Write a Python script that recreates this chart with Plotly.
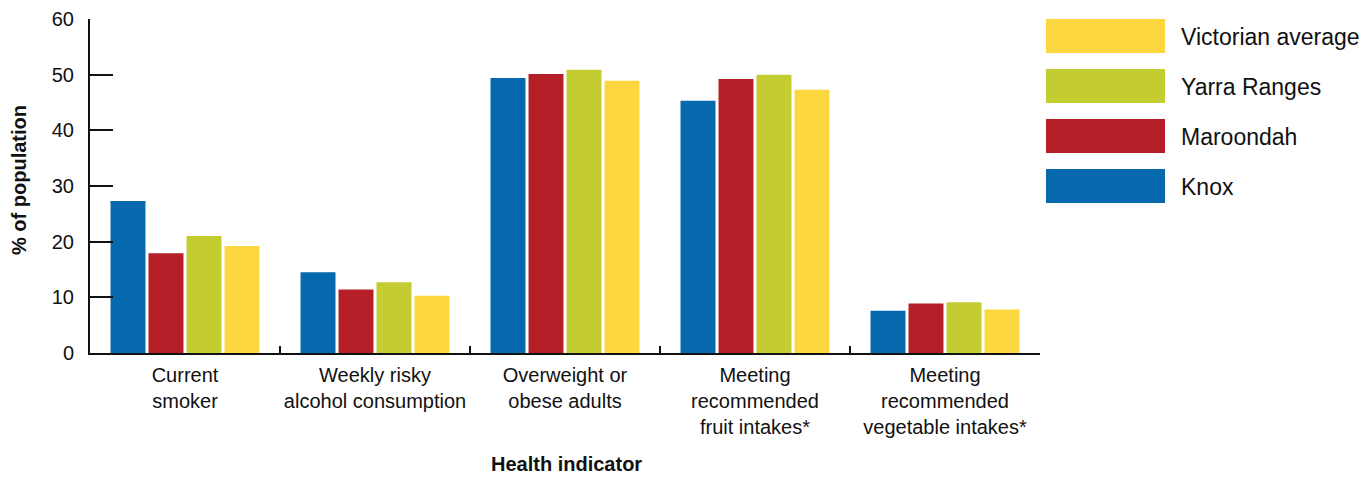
import plotly.graph_objects as go

categories = [
    "Current<br>smoker",
    "Weekly risky<br>alcohol consumption",
    "Overweight or<br>obese adults",
    "Meeting<br>recommended<br>fruit intakes*",
    "Meeting<br>recommended<br>vegetable intakes*",
]
series_names = ["Knox", "Maroondah", "Yarra Ranges", "Victorian average"]
knox = [27.3, 14.5, 49.4, 45.3, 7.6]
maroondah = [17.9, 11.4, 50.1, 49.2, 8.9]
yarra_ranges = [21.0, 12.7, 50.9, 50.0, 9.1]
victorian_average = [19.2, 10.3, 48.9, 47.3, 7.8]
values = [knox, maroondah, yarra_ranges, victorian_average]
colors = ["#0769AD", "#B52028", "#C3CD31", "#FDD740"]
y_ticks = [0, 10, 20, 30, 40, 50, 60]

FONT = "Liberation Sans, Arial, Helvetica, sans-serif"

fig = go.Figure()
for name, vals, col in zip(series_names, values, colors):
    fig.add_trace(go.Bar(name=name, x=categories, y=vals, marker=dict(color=col, line=dict(width=0)),
                         showlegend=False))

# custom legend (large swatches)
L, R, T, B = 90, 326, 19, 124
W, H = 1366, 477
pw, ph = W - L - R, H - T - B

def px_x(x):
    return (x - L) / pw

def px_y(y):
    return (H - B - y) / ph

shapes = []
annotations = []
legend_order = list(range(len(series_names)))[::-1]
for i, idx in enumerate(legend_order):
    top = 19 + i * 50
    shapes.append(dict(type="rect", xref="paper", yref="paper",
                       x0=px_x(1046), x1=px_x(1165), y0=px_y(top + 34), y1=px_y(top),
                       fillcolor=colors[idx], line=dict(width=0), layer="above"))
    annotations.append(dict(text=series_names[idx], xref="paper", yref="paper",
                            x=px_x(1179), y=px_y(top + 18), xanchor="left", yanchor="middle",
                            showarrow=False, font=dict(family=FONT, size=23, color="#111111")))

annotations.append(dict(text="<b>Health indicator</b>", xref="paper", yref="paper",
                        x=px_x(566), y=px_y(464), xanchor="center", yanchor="middle",
                        showarrow=False, font=dict(family=FONT, size=20, color="#111111")))
annotations.append(dict(text="<b>% of population</b>", xref="paper", yref="paper",
                        x=px_x(19), y=px_y(180), xanchor="center", yanchor="middle", textangle=-90,
                        showarrow=False, font=dict(family=FONT, size=20, color="#111111")))

fig.update_layout(
    width=W, height=H,
    margin=dict(l=L, r=R, t=T, b=B, pad=0, autoexpand=False),
    paper_bgcolor="white", plot_bgcolor="white",
    barmode="group", bargap=0.2, bargroupgap=0.08,
    font=dict(family=FONT, size=20, color="#111111"),
    shapes=shapes, annotations=annotations,
    xaxis=dict(type="category", range=[-0.5, 4.5], showline=True, linecolor="#111111", linewidth=2,
               ticks="inside", tickson="boundaries", ticklen=7, tickwidth=2, tickcolor="#111111",
               showgrid=False, zeroline=False, tickfont=dict(size=20), tickangle=0,
               automargin=False, ticklabelstandoff=3),
    yaxis=dict(range=[0, 60], tickvals=y_ticks, showline=True, linecolor="#111111", linewidth=2,
               ticks="inside", ticklen=23, tickwidth=2, tickcolor="#111111",
               showgrid=False, zeroline=False, tickfont=dict(size=20), automargin=False,
               ticklabelstandoff=10),
)

fig.write_html("out.html", config={"displayModeBar": False},
               post_script="document.body.style.margin='0';document.body.style.overflow='hidden';")
